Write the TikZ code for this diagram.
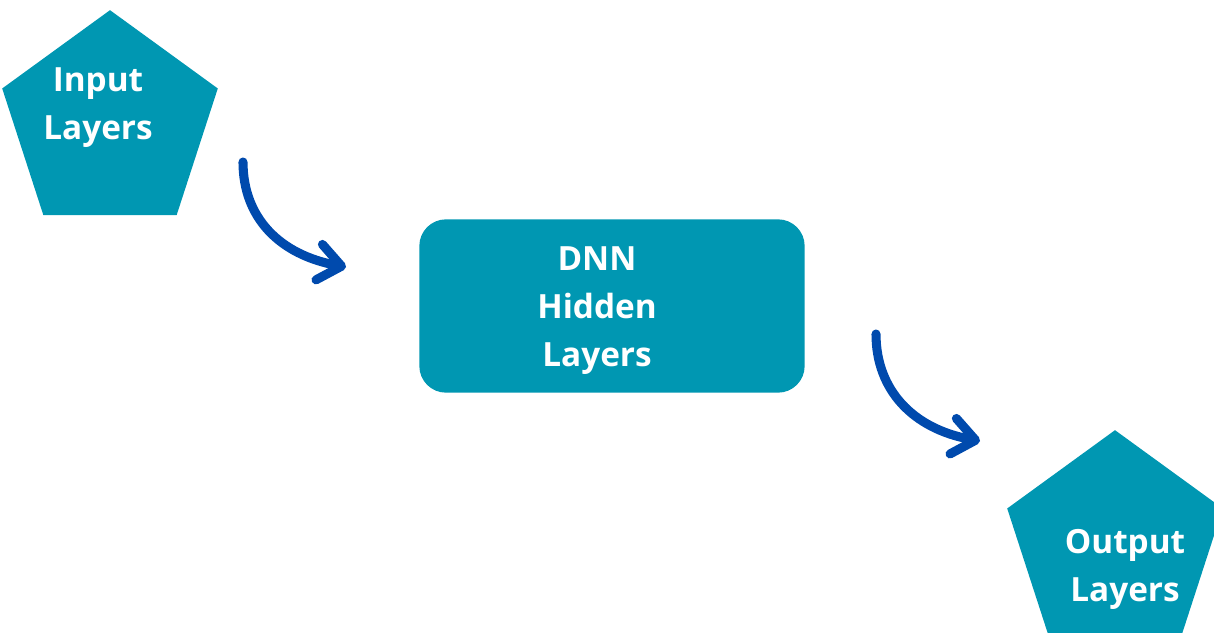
\documentclass[tikz,border=0pt]{standalone}
\usepackage{fontspec}
\setmainfont{Open Sans}
\usetikzlibrary{shapes.geometric,arrows.meta}

\definecolor{layerteal}{HTML}{0097B2}
\definecolor{flowblue}{HTML}{004AAD}

\tikzset{every picture/.style={line width=0.75pt}}
\tikzset{
  pentabox/.style={regular polygon, regular polygon sides=5, minimum size=170pt, inner sep=0pt, outer sep=0pt, fill=layerteal, draw=none},
  hiddenbox/.style={rectangle, rounded corners=20pt, minimum width=289pt, minimum height=130pt, inner sep=0pt, fill=layerteal, draw=none},
  boxtext/.style={text=white, align=center, font=\bfseries\fontsize{25}{36}\selectfont},
  flowarrow/.style={draw=flowblue, line width=6.8pt, line cap=round, -{Straight Barb[length=17pt,width=27pt,round]}}
}

\begin{document}
\begin{tikzpicture}[x=0.75pt,y=0.75pt,yscale=-1,xscale=1]
\clip (0,0) rectangle (1214,632);
\useasboundingbox (0,0) rectangle (1214,632);

%Shape: Pentagon [id:input]
\node [pentabox] (inp) at (110,123.5) {};
%Shape: Rounded Rect [id:hidden]
\node [hiddenbox] (dnn) at (612,306) {};
%Shape: Pentagon [id:output]
\node [pentabox] (outp) at (1115,543.5) {};

%Curve Lines [id:flow1]
\coordinate (f1s) at (243,162);
\coordinate (f1e) at (346,267);
\draw [flowarrow] (f1s) .. controls (243,218) and (280,255) .. (f1e);
%Curve Lines [id:flow2]
\coordinate (f2s) at (876,334);
\coordinate (f2e) at (980,441);
\draw [flowarrow] (f2s) .. controls (876,390) and (913,429) .. (f2e);

% Text Node
\node [boxtext] (inptext) at (98,108) {Input\\Layers};
% Text Node
\node [boxtext] (dnntext) at (597,311) {DNN\\Hidden\\Layers};
% Text Node
\node [boxtext] (outptext) at (1125,569) {Output\\Layers};

\end{tikzpicture}
\end{document}
